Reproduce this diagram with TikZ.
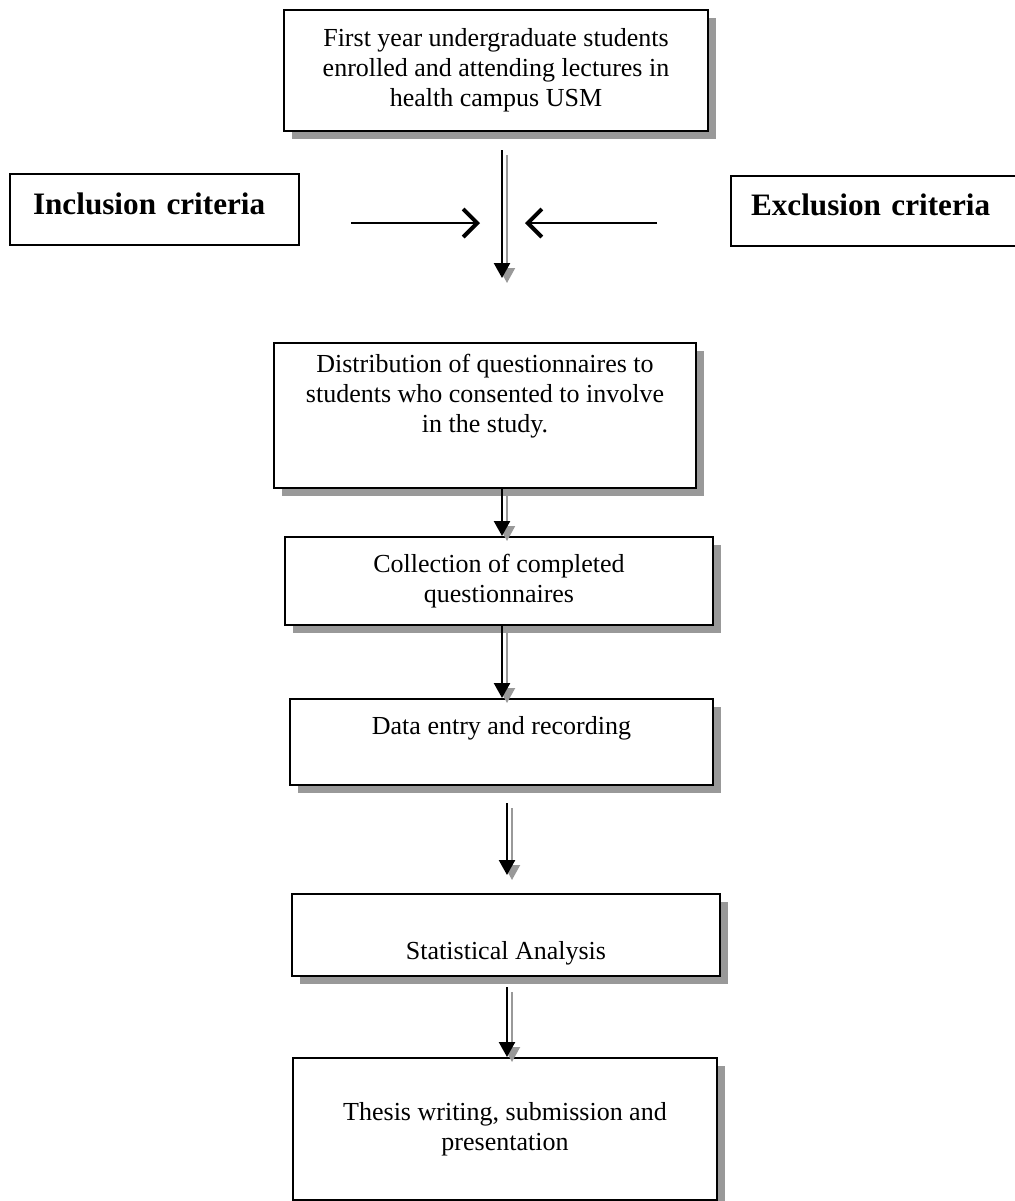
\documentclass[tikz,border=0pt]{standalone}
\usepackage{fontspec}
\setmainfont{Liberation Serif}
\usetikzlibrary{arrows.meta,shadows}

\begin{document}
\begin{tikzpicture}[x=0.5pt,y=-0.5pt,
  box/.style={draw,line width=1pt,fill=white,align=center,inner sep=0pt,anchor=north,
              font=\fontsize{13}{15}\selectfont,
              drop shadow={shadow xshift=4pt,shadow yshift=-4pt,fill=black!40,opacity=1}},
  crit/.style={draw,line width=1pt,align=left,inner ysep=0pt,anchor=north west,
               font=\fontsize{15.6}{19}\selectfont\bfseries,text height=20pt,text depth=15.5pt},
  flow/.style={-{Triangle[width=8pt,length=7.5pt]},line width=1.2pt},
  ghost/.style={flow,draw=black!40,line width=1pt,transform canvas={xshift=2.5pt,yshift=-2.5pt}},
  side/.style={-{Straight Barb[length=7pt,width=14pt,line width=2pt]},line width=1pt}]
\useasboundingbox (0,0) rectangle (1014,1201);
% boxes, top to bottom
\node[box,minimum width=212pt,minimum height=60.5pt] (first) at (496,9)
  {First year undergraduate students\\enrolled and attending lectures in\\health campus USM};
\node[crit,inner xsep=11.5pt,text width=121.5pt] (incl) at (9,173) {Inclusion criteria};
\node[crit,inner xsep=10pt,text width=127pt,text height=19.5pt] (excl) at (730,175) {Exclusion criteria};
\node[box,minimum width=211pt,minimum height=72.5pt] (distrib) at (485,342)
  {Distribution of questionnaires to\\students who consented to involve\\in the study.\\[7pt]~};
\node[box,minimum width=214pt,minimum height=44pt] (collect) at (499,536)
  {Collection of completed\\questionnaires};
\node[box,minimum width=211.5pt,text height=17.5pt,text depth=25.5pt] (entry) at (501.5,698)
  {Data entry and recording};
\node[box,minimum width=214pt,text height=32.5pt,text depth=8.5pt] (stats) at (506,893)
  {Statistical Analysis};
\node[box,minimum width=212pt,minimum height=71pt] (thesis) at (505,1057)
  {Thesis writing, submission and\\presentation};
% free ends of the connectors
\coordinate (spine) at (502,0);
\coordinate (spineb) at (507,0);
\coordinate (joinS) at (502,150);
\coordinate (joinE) at (502,278);
\coordinate (inclS) at (351,223);
\coordinate (inclE) at (480,223);
\coordinate (exclS) at (657,223);
\coordinate (exclE) at (525,223);
\coordinate (entryOut) at (507,803);
\coordinate (statsIn) at (507,875);
\coordinate (statsOut) at (507,987);
\foreach \u/\v in {joinS/joinE,distrib.south -| spine/collect.north -| spine,
                   collect.south -| spine/entry.north -| spine,entryOut/statsIn,
                   statsOut/thesis.north -| spineb}{
  \draw[ghost] (\u) -- (\v);
  \draw[flow] (\u) -- (\v);
}
\draw[side] (inclS) -- (inclE);
\draw[side] (exclS) -- (exclE);
\end{tikzpicture}
\end{document}
